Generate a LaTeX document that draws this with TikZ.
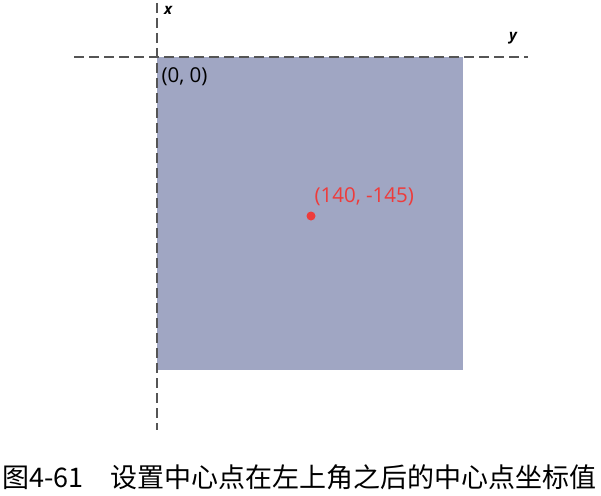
\documentclass[tikz,border=0pt]{standalone}
\usepackage{fontspec}
\setmainfont{Open Sans}
\newfontfamily\cjk{Noto Sans CJK SC}
\usetikzlibrary{calc, positioning}
\definecolor{canvas}{HTML}{A0A6C3}
\definecolor{axisgray}{HTML}{555555}
\definecolor{pointred}{HTML}{EE3B3B}

\begin{document}
\begin{tikzpicture}[x=1pt, y=-1pt,
    axis/.style={axisgray, dash pattern=on 10pt off 5pt, line width=1.2pt},
    axislabel/.style={font=\bfseries\itshape\fontsize{15}{15}\selectfont}]
  \useasboundingbox (0, 0) rectangle (601, 495);
  \coordinate (O) at (157, 57);
  \coordinate (C) at (463, 370);
  \coordinate (xtop) at (157, 3);
  \coordinate (xbot) at (157, 430);
  \coordinate (yleft) at (74, 57);
  \coordinate (yright) at (528, 57);
  \coordinate (dot) at (311, 216);
  \fill[canvas] (O) rectangle (C);
  \draw[axis] (xtop) -- (xbot);
  \draw[axis] (yleft) -- (yright);
  \node[axislabel] (xlabel) at (168, 10) {x};
  \node[axislabel] (ylabel) at (513, 38) {y};
  \node[anchor=west, font=\fontsize{20.5}{20.5}\selectfont] (origin) at (158, 77) {(0, 0)};
  \fill[pointred] (dot) circle (4.5);
  \node[anchor=west, pointred, font=\fontsize{20.5}{20.5}\selectfont] (dotlabel) at (311, 197) {(140, -145)};
  \node[anchor=west, font=\cjk\fontsize{27}{27}\selectfont] (caption) at (-1, 477) {图4-61　设置中心点在左上角之后的中心点坐标值};
\end{tikzpicture}
\end{document}
